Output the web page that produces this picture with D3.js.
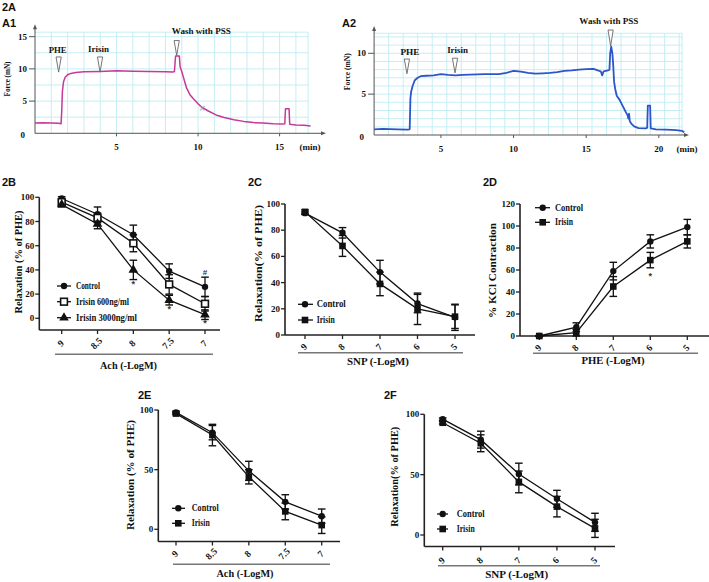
<!DOCTYPE html>
<html><head><meta charset="utf-8">
<script src="https://cdn.jsdelivr.net/npm/d3@7/dist/d3.min.js"></script>
<style>body{margin:0;background:#fff}</style>
</head><body>
<svg id="c" width="709" height="582"></svg>
<script>
// ================= DATA =================
// Panel A1 trace (time in min, force in mN)
const a1Time  = [0, 0.5, 1.0, 1.45, 1.6, 1.64, 1.68, 1.75, 1.85, 2.0, 2.2, 2.5, 3.0, 4.0, 5.0, 6.0, 7.0, 8.0, 8.45, 8.55, 8.62, 8.85, 8.9, 9.0, 9.1, 9.3, 9.5, 9.7, 10.0, 10.2, 10.6, 11.1, 11.6, 12.2, 12.8, 13.4, 14.0, 14.6, 15.2, 15.32, 15.36, 15.58, 15.62, 16.0, 16.5, 16.9];
const a1Force = [1.6, 1.65, 1.6, 1.55, 1.5, 3.5, 6.5, 8.0, 8.7, 9.1, 9.3, 9.45, 9.55, 9.6, 9.7, 9.65, 9.6, 9.55, 9.5, 9.6, 12.0, 12.0, 10.3, 9.6, 8.7, 7.0, 6.0, 5.4, 4.6, 4.1, 3.5, 2.85, 2.45, 2.1, 1.85, 1.66, 1.6, 1.5, 1.45, 1.5, 3.8, 3.8, 1.4, 1.3, 1.25, 1.15];
const a1Ticks = [5, 10, 15];
const a1YTicks = [0, 5, 10, 15];
const a1Notes = ["PHE", "Irisin", "Wash with PSS"];
const a1NoteTime = [1.39, 3.9, 10.2];
const a1MarkTime = [1.45, 3.99, 8.69];

// Panel A2 trace
const a2Time  = [0.4, 1, 2, 2.7, 2.85, 2.9, 2.95, 3.05, 3.2, 3.4, 3.6, 4, 4.5, 5, 5.5, 6, 6.5, 7, 8, 9, 9.5, 10, 10.5, 11, 11.5, 12, 12.5, 13, 13.5, 14, 14.5, 15, 15.5, 15.8, 16.0, 16.1, 16.2, 16.5, 16.6, 16.65, 16.72, 16.8, 16.85, 16.92, 17.0, 17.1, 17.3, 17.5, 17.7, 17.85, 17.9, 17.95, 18.0, 18.1, 18.3, 18.6, 19.1, 19.2, 19.24, 19.4, 19.44, 19.8, 20.5, 21.2, 21.6, 21.75];
const a2Force = [0.7, 0.75, 0.7, 0.65, 0.7, 4.5, 5.3, 6.0, 6.7, 7.0, 7.2, 7.25, 7.3, 7.45, 7.35, 7.3, 7.35, 7.4, 7.45, 7.45, 7.6, 7.85, 7.75, 7.6, 7.5, 7.55, 7.6, 7.7, 7.85, 7.9, 8.0, 8.05, 8.1, 7.9, 7.8, 7.3, 7.8, 7.9, 8.0, 10.0, 10.8, 10.0, 8.8, 6.5, 5.6, 4.8, 4.3, 3.6, 2.9, 2.4, 2.0, 2.6, 1.7, 1.4, 1.05, 0.85, 0.8, 0.9, 3.6, 3.6, 0.8, 0.7, 0.65, 0.6, 0.5, 0.35];
const a2Ticks = [5, 10, 15, 20];
const a2YTicks = [0, 5, 10];
const a2Notes = ["PHE", "Irisin", "Wash with PSS"];
const a2NoteTime = [2.87, 6.15, 16.56];
const a2MarkTime = [2.66, 5.97, 16.68];

// Panel 2B (Ach)
const bCats = ["9", "8.5", "8", "7.5", "7"];
const bControl = [99, 86, 69, 39, 26];
const bControlErr = [1.5, 6, 8, 6, 8];
const bIrisin600 = [96, 83, 62, 28, 12];
const bIrisin600Err = [2, 4, 7, 8, 6];
const bIrisin3000 = [94, 78, 40, 15, 3];
const bIrisin3000Err = [2, 4, 8, 4, 4];
const bMarks = ["*", "*", "*", "#"];
const bMarkCat = ["8", "7.5", "7", "7"];
const bMarkVal = [28, 8, -4, 38];

// Panel 2C (SNP)
const cCats = ["9", "8", "7", "6", "5"];
const cControl = [93, 78, 48, 24, 13.5];
const cControlErr = [1, 4, 9, 7, 10];
const cIrisin = [94, 68, 39, 20, 14];
const cIrisinErr = [1.5, 8, 9, 12, 9];

// Panel 2D (PHE)
const dCats = ["9", "8", "7", "6", "5"];
const dControl = [0, 8, 59, 86, 99];
const dControlErr = [0.5, 4, 8, 6, 7];
const dIrisin = [0, 3, 45, 69, 86];
const dIrisinErr = [0.5, 3, 9, 7, 6];
const dMarks = ["*"];
const dMarkCat = ["6"];
const dMarkVal = [55];

// Panel 2E (Ach)
const eCats = ["9", "8.5", "8", "7.5", "7"];
const eControl = [98, 81, 49, 23, 11];
const eControlErr = [1, 6, 8, 6, 6];
const eIrisin = [97, 79, 44, 15, 3.5];
const eIrisinErr = [1, 9, 6, 7, 7];

// Panel 2F (SNP)
const fCats = ["9", "8", "7", "6", "5"];
const fControl = [96, 79, 50.5, 30, 10.5];
const fControlErr = [1, 7, 9, 7, 7.5];
const fIrisin = [93, 76, 44, 23.5, 5.5];
const fIrisinErr = [1, 7, 9, 8.5, 7.5];

// ================= DRAWING =================
const svg = d3.select("#c");
svg.append("rect").attr("width", 709).attr("height", 582).attr("fill", "#fff");
const SERIF = "'Liberation Serif','Times New Roman',serif";
const SANS = "'Liberation Sans',Arial,sans-serif";

function txt(x, y, s, o = {}) {
  const t = svg.append("text").attr("x", x).attr("y", y).text(s)
    .attr("font-family", o.ff || SERIF).attr("font-weight", "bold")
    .attr("font-size", o.fs || 9).attr("text-anchor", o.anchor || "middle")
    .attr("dominant-baseline", o.db || "central").attr("fill", o.fill || "#111");
  if (o.len) t.attr("textLength", o.len).attr("lengthAdjust", "spacingAndGlyphs");
  if (o.rot != null) t.attr("transform", `rotate(${o.rot},${x},${y})`);
  return t;
}

// Panel labels
[["2A", 2, 11], ["A1", 2, 26.5], ["A2", 342, 26.5], ["2B", 2, 186], ["2C", 248, 186],
 ["2D", 483, 186], ["2E", 138, 399], ["2F", 384, 399]].forEach(([s, x, y]) =>
  txt(x, y, s, {ff: SANS, fs: 11, anchor: "start", db: "auto"}));

// ---------- trace panels ----------
function tracePanel(o) {
  const x = d3.scaleLinear().domain(o.xDom).range(o.xRange);
  const y = d3.scaleLinear().domain([0, o.yMax]).range(o.yRange);
  const g = svg.append("g");
  const gridCol = "#bfecf2";
  const gx = d3.range(o.xDom[0] + o.gxStep, o.gridXMax, o.gxStep).concat([o.gridXMax]);
  g.selectAll(null).data(gx).join("line")
    .attr("x1", d => x(d)).attr("x2", d => x(d)).attr("y1", y(0)).attr("y2", y(o.gridYMax))
    .attr("stroke", gridCol).attr("stroke-width", 0.9);
  const gy = d3.range(o.gyStep, o.gridYMax, o.gyStep).concat([o.gridYMax]);
  g.selectAll(null).data(gy).join("line")
    .attr("x1", x(o.xDom[0])).attr("x2", x(o.gridXMax)).attr("y1", d => y(d)).attr("y2", d => y(d))
    .attr("stroke", gridCol).attr("stroke-width", 0.9);
  // axes
  const axCol = "#555";
  g.append("line").attr("x1", x(o.xDom[0])).attr("x2", x(o.xDom[1])).attr("y1", y(0)).attr("y2", y(0))
    .attr("stroke", axCol).attr("stroke-width", 1);
  g.append("line").attr("x1", x(o.xDom[0])).attr("x2", x(o.xDom[0])).attr("y1", y(0)).attr("y2", y(o.yMax))
    .attr("stroke", axCol).attr("stroke-width", 1);
  const xe = x(o.xDom[1]), ye = y(o.yMax), x0 = x(o.xDom[0]), y0 = y(0);
  g.append("path").attr("d", `M${xe + 4},${y0} L${xe - 1},${y0 - 2} L${xe - 1},${y0 + 2} Z`).attr("fill", axCol);
  g.append("path").attr("d", `M${x0},${ye - 4} L${x0 - 2},${ye + 1} L${x0 + 2},${ye + 1} Z`).attr("fill", axCol);
  // x ticks
  g.selectAll(null).data(o.xTicks).join("line")
    .attr("x1", d => x(d)).attr("x2", d => x(d)).attr("y1", y0).attr("y2", y0 + 3)
    .attr("stroke", axCol);
  o.xTicks.forEach(t => txt(x(t), y0 + o.xLabDy, t, {fs: 9}));
  txt(o.minX, y0 + o.xLabDy, "(min)", {fs: 9});
  // y ticks
  o.yTicks.forEach(t => {
    if (t > 0) g.append("line").attr("x1", x0 - 6).attr("x2", x0).attr("y1", y(t)).attr("y2", y(t)).attr("stroke", axCol);
    txt(x0 - (t > 0 ? 8 : 10), y(t) + (t > 0 ? 0 : 1.5), t, {fs: 9, anchor: "end"});
  });
  txt(o.yLabX, o.yLabY, "Force (mN)", {fs: 8.5, rot: -90, len: o.yLabLen});
  // trace
  const line = d3.line().x(i => x(o.time[i])).y(i => y(o.force[i]));
  g.append("path").attr("d", line(d3.range(o.time.length))).attr("fill", "none")
    .attr("stroke", o.color).attr("stroke-width", o.lw).attr("stroke-linejoin", "round");
  // annotations
  o.notes.forEach((s, i) => {
    txt(x(o.noteTime[i]), y(o.noteY[i]), s, {fs: 9, len: o.noteLen[i]});
    const mx = x(o.markTime[i]), mt = y(o.markTop[i]), mb = y(o.markBot[i]);
    g.append("path").attr("d", `M${mx - 2.6},${mt} L${mx + 2.6},${mt} L${mx},${mb} Z`)
      .attr("fill", "#fff").attr("stroke", "#666").attr("stroke-width", 0.9);
  });
  return {x, y, g};
}

const pA1 = tracePanel({
  xDom: [0, 17.6], xRange: [35, 322], yMax: 16.3, yRange: [133.3, 28.3],
  gxStep: 1, gridXMax: 16.75, gyStep: 2.5, gridYMax: 15.7,
  xTicks: a1Ticks, yTicks: a1YTicks, xLabDy: 13.3, minX: 310,
  yLabX: 7.3, yLabY: 79, yLabLen: 35,
  time: a1Time, force: a1Force, color: "#c8379a", lw: 1.5,
  notes: a1Notes, noteTime: a1NoteTime, noteY: [12.95, 13.1, 15.95], noteLen: [18, 21, 59],
  markTime: a1MarkTime, markTop: [11.85, 11.85, 14.4], markBot: [9.5, 9.5, 12.1]
});
// small grey cross mark on the A1 trace
pA1.g.append("text").attr("x", pA1.x(10.25)).attr("y", pA1.y(3.9)).text("×")
  .attr("font-family", SANS).attr("font-size", 11).attr("fill", "#999")
  .attr("text-anchor", "middle").attr("dominant-baseline", "central");

tracePanel({
  xDom: [0.4, 21.8], xRange: [374.1, 685], yMax: 12.85, yRange: [135, 30],
  gxStep: 1, gridXMax: 21.6, gyStep: 1, gridYMax: 12.45,
  xTicks: a2Ticks, yTicks: a2YTicks, xLabDy: 14, minX: 687,
  yLabX: 346.7, yLabY: 71.7, yLabLen: 37,
  time: a2Time, force: a2Force, color: "#2b55c8", lw: 1.8,
  notes: a2Notes, noteTime: a2NoteTime, noteY: [10.15, 10.4, 13.99], noteLen: [19, 21, 59],
  markTime: a2MarkTime, markTop: [9.3, 9.4, 12.85], markBot: [7.5, 7.6, 10.9]
});

// ---------- dose-response panels ----------
function marker(g, type, cx, cy) {
  if (type === "circle") g.append("circle").attr("cx", cx).attr("cy", cy).attr("r", 3.2).attr("fill", "#111");
  else if (type === "square") g.append("rect").attr("x", cx - 3.3).attr("y", cy - 3.3).attr("width", 6.6).attr("height", 6.6).attr("fill", "#111");
  else if (type === "squareOpen") g.append("rect").attr("x", cx - 3.4).attr("y", cy - 3.4).attr("width", 6.8).attr("height", 6.8).attr("fill", "#fff").attr("stroke", "#111").attr("stroke-width", 1.6);
  else if (type === "triangle") g.append("path").attr("d", d3.symbol(d3.symbolTriangle, 40)()).attr("transform", `translate(${cx},${cy})`).attr("fill", "#111");
}

function dosePanel(o) {
  const g = svg.append("g");
  const x = d3.scalePoint().domain(o.cats).range(o.xRange);
  const y = d3.scaleLinear().domain(o.yDom).range(o.yRange);
  const col = "#222";
  // y axis
  g.append("line").attr("x1", o.axisX).attr("x2", o.axisX).attr("y1", y(o.yDom[1])).attr("y2", o.axisY)
    .attr("stroke", col).attr("stroke-width", 1.6);
  o.yTicks.forEach(t => {
    g.append("line").attr("x1", o.axisX - 4).attr("x2", o.axisX).attr("y1", y(t)).attr("y2", y(t)).attr("stroke", col).attr("stroke-width", 1.3);
    txt(o.axisX - 5, y(t), t, {fs: 9, anchor: "end"});
  });
  // x axis
  g.append("line").attr("x1", o.axisX).attr("x2", o.xEnd).attr("y1", o.axisY).attr("y2", o.axisY)
    .attr("stroke", col).attr("stroke-width", 1.6);
  o.cats.forEach(c => {
    g.append("line").attr("x1", x(c)).attr("x2", x(c)).attr("y1", o.axisY).attr("y2", o.axisY + 4).attr("stroke", col).attr("stroke-width", 1.3);
    txt(x(c) - 1, o.axisY + o.tickDy, c, {fs: 9.5, rot: -45});
  });
  g.append("line").attr("x1", o.bracket[0]).attr("x2", o.bracket[1]).attr("y1", o.bracket[2]).attr("y2", o.bracket[2])
    .attr("stroke", "#777").attr("stroke-width", 1.4);
  txt(o.title[1], o.title[2], o.title[0], {fs: 10, len: o.title[3]});
  txt(o.ytitle[1], o.ytitle[2], o.ytitle[0], {fs: 10, rot: -90, len: o.ytitle[3]});
  // series
  o.series.forEach(s => {
    const line = d3.line().x((d, i) => x(o.cats[i])).y(d => y(d));
    g.append("path").attr("d", line(s.vals)).attr("fill", "none").attr("stroke", "#111").attr("stroke-width", 1.3);
  });
  o.series.forEach(s => {
    s.vals.forEach((v, i) => {
      const cx = x(o.cats[i]), lo = y(v - s.err[i]), hi = y(v + s.err[i]);
      g.append("line").attr("x1", cx).attr("x2", cx).attr("y1", lo).attr("y2", hi).attr("stroke", "#111").attr("stroke-width", 1.3);
      [lo, hi].forEach(yy => g.append("line").attr("x1", cx - 3.8).attr("x2", cx + 3.8).attr("y1", yy).attr("y2", yy).attr("stroke", "#111").attr("stroke-width", 1.4));
    });
  });
  o.series.forEach(s => s.vals.forEach((v, i) => marker(g, s.sym, x(o.cats[i]), y(v))));
  // significance marks
  (o.marks || []).forEach((m, i) => txt(x(o.markCat[i]), y(o.markVal[i]), m, {fs: m === "#" ? 8 : 9, ff: SANS, fill: "#333"}));
  // legend
  o.series.forEach((s, i) => {
    const ly = o.legend.rows[i];
    g.append("line").attr("x1", o.legend.x1).attr("x2", o.legend.x2).attr("y1", ly).attr("y2", ly).attr("stroke", "#111").attr("stroke-width", 1.3);
    marker(g, s.sym, o.legend.mx, ly);
    txt(o.legend.tx, ly, s.name, {fs: 9.5, anchor: "start", len: o.legend.lens[i]});
  });
}

dosePanel({
  cats: bCats, xRange: [61.7, 205], yDom: [0, 100], yRange: [318.3, 197.3], yTicks: [0, 20, 40, 60, 80, 100],
  axisX: 39.3, axisY: 330, xEnd: 220, tickDy: 13.5, bracket: [55, 213, 354.3],
  title: ["Ach (-LogM)", 128.5, 365, 57], ytitle: ["Relaxation (% of PHE)", 18, 262, 103],
  series: [
    {name: "Control", vals: bControl, err: bControlErr, sym: "circle"},
    {name: "Irisin 600ng/ml", vals: bIrisin600, err: bIrisin600Err, sym: "squareOpen"},
    {name: "Irisin 3000ng/ml", vals: bIrisin3000, err: bIrisin3000Err, sym: "triangle"}],
  marks: bMarks, markCat: bMarkCat, markVal: bMarkVal,
  legend: {x1: 57, x2: 71, mx: 64, tx: 76, rows: [286, 301.7, 317.7], lens: [24, 53, 61]}
});

dosePanel({
  cats: cCats, xRange: [305, 455], yDom: [0, 100], yRange: [335, 204], yTicks: [0, 20, 40, 60, 80, 100],
  axisX: 285, axisY: 335, xEnd: 475, tickDy: 12, bracket: [298, 463, 352.7],
  title: ["SNP (-LogM)", 378, 361, 62], ytitle: ["Relaxation(% of PHE)", 258, 263.5, 117],
  series: [
    {name: "Control", vals: cControl, err: cControlErr, sym: "circle"},
    {name: "Irisin", vals: cIrisin, err: cIrisinErr, sym: "square"}],
  legend: {x1: 298, x2: 313, mx: 305, tx: 316.7, rows: [304.3, 320], lens: [29, 18]}
});

dosePanel({
  cats: dCats, xRange: [539.3, 687.3], yDom: [0, 120], yRange: [336, 204], yTicks: [0, 20, 40, 60, 80, 100, 120],
  axisX: 520, axisY: 336, xEnd: 709, tickDy: 12, bracket: [533, 698, 353.3],
  title: ["PHE (-LogM)", 613, 360.7, 63], ytitle: ["% KCl Contraction", 492.7, 270.5, 95],
  series: [
    {name: "Control", vals: dControl, err: dControlErr, sym: "circle"},
    {name: "Irisin", vals: dIrisin, err: dIrisinErr, sym: "square"}],
  marks: dMarks, markCat: dMarkCat, markVal: dMarkVal,
  legend: {x1: 535, x2: 550, mx: 542.7, tx: 555, rows: [207.7, 222.3], lens: [28, 18]}
});

dosePanel({
  cats: eCats, xRange: [176, 321.7], yDom: [0, 100], yRange: [529.3, 410], yTicks: [0, 50, 100],
  axisX: 158.3, axisY: 541.5, xEnd: 340, tickDy: 12.5, bracket: [173, 330, 564.3],
  title: ["Ach (-LogM)", 245, 573.3, 57], ytitle: ["Relaxation (% of PHE)", 130.7, 475, 110],
  series: [
    {name: "Control", vals: eControl, err: eControlErr, sym: "circle"},
    {name: "Irisin", vals: eIrisin, err: eIrisinErr, sym: "square"}],
  legend: {x1: 172, x2: 185, mx: 178.3, tx: 191.7, rows: [508.3, 523.3], lens: [27, 18]}
});

dosePanel({
  cats: fCats, xRange: [442.7, 595], yDom: [0, 100], yRange: [535, 414.3], yTicks: [0, 50, 100],
  axisX: 424.3, axisY: 546.5, xEnd: 615, tickDy: 14, bracket: [438, 600, 565.7],
  title: ["SNP (-LogM)", 516.7, 574, 63], ytitle: ["Relaxation(% of PHE)", 395, 476.7, 100],
  series: [
    {name: "Control", vals: fControl, err: fControlErr, sym: "circle"},
    {name: "Irisin", vals: fIrisin, err: fIrisinErr, sym: "square"}],
  legend: {x1: 437, x2: 448, mx: 442.7, tx: 456.7, rows: [514, 529], lens: [28, 18]}
});
</script>
</body></html>
